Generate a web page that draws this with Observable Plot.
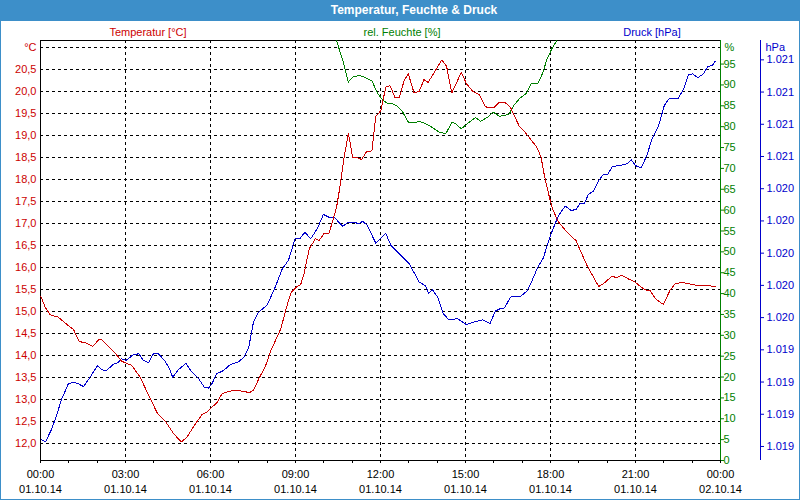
<!DOCTYPE html>
<html><head><meta charset="utf-8">
<script src="https://cdn.jsdelivr.net/npm/d3@7"></script>
<script src="https://cdn.jsdelivr.net/npm/@observablehq/plot@0.6"></script>
<style>
body{margin:0;background:#fff;}
#wrap{position:relative;width:800px;height:500px;background:#fff;overflow:hidden;font-family:"Liberation Sans",Arial,sans-serif;}
#titlebar{position:absolute;left:0;top:0;width:800px;height:21px;background:#3d8fc9;}
#title{position:absolute;top:0;left:414px;transform:translateX(-50%);line-height:20px;color:#fff;font-weight:bold;font-size:12px;white-space:nowrap;}
.slabel{position:absolute;top:25px;transform:translateX(-50%);font-size:11px;white-space:nowrap;line-height:14px;}
#chart{position:absolute;left:0;top:20px;}
#border{position:absolute;left:0;top:0;width:798px;height:498px;border:1px solid #3d8fc9;pointer-events:none;}
</style></head>
<body>
<div id="wrap">
  <div id="titlebar"><div id="title">Temperatur, Feuchte &amp; Druck</div></div>
  <div class="slabel" style="left:148px;color:#cc0000">Temperatur [°C]</div>
  <div class="slabel" style="left:402px;color:#008000">rel. Feuchte [%]</div>
  <div class="slabel" style="left:652px;color:#0000cc">Druck [hPa]</div>
  <div id="chart"></div>
  <div id="border"></div>
</div>
<script>
// ---- Data ----
const tempTime = ["00:01","00:10","00:20","00:38","00:52","01:10","01:22","01:35","01:51","02:03","02:10","02:20","02:38","02:52","03:13","03:31","03:49","04:08","04:23","04:42","04:58","05:10","05:28","05:42","05:52","06:03","06:13","06:24","06:38","06:52","07:10","07:22","07:31","07:42","07:56","08:08","08:29","08:39","08:50","09:01","09:11","09:18","09:29","09:42","09:50","10:01","10:11","10:18","10:27","10:34","10:43","10:52","11:01","11:11","11:20","11:30","11:42","11:50","12:01","12:11","12:20","12:31","12:40","12:50","12:59","13:11","13:22","13:32","13:41","13:54","14:10","14:20","14:31","14:41","14:51","15:02","15:15","15:29","15:42","15:50","15:59","16:11","16:24","16:35","16:44","16:54","17:06","17:17","17:31","17:40","17:47","17:56","18:04","18:17","18:35","18:54","19:03","19:17","19:29","19:42","19:52","20:10","20:20","20:31","20:45","20:59","21:10","21:21","21:31","21:42","21:59","22:13","22:24","22:38","22:52","23:13","23:28","23:49"];
const tempValue = [15.34,15.10,14.93,14.87,14.74,14.59,14.32,14.29,14.21,14.36,14.36,14.25,14.06,13.87,13.78,13.51,13.10,12.68,12.53,12.23,12.04,12.15,12.45,12.66,12.72,12.83,12.92,13.13,13.19,13.21,13.19,13.16,13.21,13.47,13.75,14.12,14.61,15.02,15.42,15.55,15.61,15.86,16.42,16.65,16.61,16.78,16.78,17.03,17.37,17.82,18.50,19.05,18.49,18.49,18.45,18.62,18.65,19.43,19.56,20.09,20.13,19.85,19.86,20.24,20.39,19.96,20.00,20.26,20.20,20.43,20.71,20.56,19.96,20.19,20.43,20.17,20.00,19.92,19.65,19.62,19.62,19.74,19.74,19.64,19.43,19.20,19.07,18.92,18.73,18.50,18.09,17.67,17.33,17.03,16.80,16.61,16.39,16.05,15.82,15.57,15.63,15.80,15.77,15.82,15.74,15.67,15.57,15.49,15.48,15.29,15.16,15.48,15.63,15.66,15.63,15.59,15.59,15.57];

const humTime = ["10:15","10:27","10:40","10:52","11:01","11:15","11:29","11:42","11:54","12:04","12:15","12:25","12:36","12:47","12:59","13:11","13:22","13:36","13:50","14:04","14:18","14:32","14:39","14:51","15:04","15:21","15:32","15:47","15:59","16:11","16:24","16:33","16:42","16:56","17:08","17:19","17:33","17:43","17:52","18:03","18:13","18:25"];
const humValue = [104.5,100.6,95.9,90.7,91.9,92.3,91.7,90.9,88.0,86.5,85.5,85.5,84.9,83.5,81.1,80.9,81.3,80.7,79.8,78.7,78.3,81.1,80.7,79.5,80.7,82.2,81.3,82.3,83.5,82.5,82.7,83.1,85.1,86.9,87.9,90.3,90.4,92.7,96.0,98.7,100.6,103.0];

const pressTime = ["00:01","00:11","00:24","00:35","00:45","00:59","01:10","01:20","01:31","01:45","02:01","02:10","02:20","02:34","02:45","02:51","03:01","03:17","03:28","03:38","03:49","03:59","04:10","04:24","04:33","04:40","04:52","05:08","05:19","05:35","05:47","05:56","06:03","06:13","06:28","06:42","06:58","07:10","07:21","07:31","07:42","07:59","08:07","08:17","08:32","08:45","08:59","09:09","09:20","09:32","09:46","09:59","10:11","10:22","10:40","10:52","11:04","11:15","11:22","11:32","11:50","12:11","12:22","12:40","13:01","13:22","13:35","13:42","13:50","14:01","14:13","14:25","14:43","15:02","15:22","15:36","15:52","16:03","16:13","16:23","16:35","16:45","16:56","17:10","17:21","17:33","17:45","17:54","18:04","18:17","18:31","18:44","18:54","19:03","19:12","19:20","19:31","19:42","19:52","20:01","20:11","20:28","20:42","20:51","21:00","21:12","21:24","21:35","21:49","22:01","22:11","22:30","22:42","22:52","23:01","23:12","23:24","23:33","23:43","23:49"];
const pressValue = [1018.742,1018.731,1018.810,1018.903,1018.996,1019.089,1019.099,1019.089,1019.072,1019.130,1019.203,1019.176,1019.172,1019.209,1019.223,1019.244,1019.234,1019.271,1019.275,1019.234,1019.220,1019.275,1019.275,1019.229,1019.182,1019.130,1019.176,1019.217,1019.167,1019.120,1019.068,1019.062,1019.089,1019.151,1019.172,1019.209,1019.223,1019.251,1019.316,1019.472,1019.534,1019.575,1019.623,1019.689,1019.803,1019.855,1019.989,1019.989,1020.030,1019.989,1020.051,1020.140,1020.123,1020.123,1020.066,1020.092,1020.092,1020.082,1020.099,1020.072,1019.962,1020.024,1019.948,1019.896,1019.834,1019.720,1019.699,1019.652,1019.673,1019.627,1019.524,1019.486,1019.493,1019.457,1019.476,1019.486,1019.462,1019.540,1019.555,1019.561,1019.627,1019.631,1019.631,1019.664,1019.730,1019.813,1019.871,1019.958,1020.041,1020.134,1020.192,1020.165,1020.171,1020.210,1020.210,1020.264,1020.285,1020.351,1020.388,1020.388,1020.438,1020.444,1020.455,1020.480,1020.444,1020.428,1020.506,1020.610,1020.693,1020.817,1020.858,1020.858,1020.920,1021.009,1021.013,1020.989,1021.013,1021.059,1021.065,1021.092];

// Tick values and labels
const tempTicks = [12.0,12.5,13.0,13.5,14.0,14.5,15.0,15.5,16.0,16.5,17.0,17.5,18.0,18.5,19.0,19.5,20.0,20.5];
const tempTickLabels = ["12,0","12,5","13,0","13,5","14,0","14,5","15,0","15,5","16,0","16,5","17,0","17,5","18,0","18,5","19,0","19,5","20,0","20,5"];
const tempGrid = [12.0,12.5,13.0,13.5,14.0,14.5,15.0,15.5,16.0,16.5,17.0,17.5,18.0,18.5,19.0,19.5,20.0,20.5,21.0];
const humTicks = [0,5,10,15,20,25,30,35,40,45,50,55,60,65,70,75,80,85,90,95];
const humTickLabels = ["0","5","10","15","20","25","30","35","40","45","50","55","60","65","70","75","80","85","90","95"];
const pressTicks = [1018.7,1018.9,1019.1,1019.3,1019.5,1019.7,1019.9,1020.1,1020.3,1020.5,1020.7,1020.9,1021.1];
const pressTickLabels = ["1.019","1.019","1.019","1.019","1.020","1.020","1.020","1.020","1.020","1.021","1.021","1.021","1.021"];
const hourTicks = [0,1,2,3,4,5,6,7,8,9,10,11,12,13,14,15,16,17,18,19,20,21,22,23,24];
const labelHours = [0,3,6,9,12,15,18,21,24];
const timeLabels = ["00:00","03:00","06:00","09:00","12:00","15:00","18:00","21:00","00:00"];
const dateLabels = ["01.10.14","01.10.14","01.10.14","01.10.14","01.10.14","01.10.14","01.10.14","01.10.14","02.10.14"];

// ---- Scales / helpers ----
const RED = "#cc0000", GREEN = "#008000", BLUE = "#0000cc";
const parse = s => { const [h, m] = s.split(":").map(Number); return new Date(Date.UTC(2014, 9, 1, h, m)); };
const hour = h => new Date(Date.UTC(2014, 9, 1, h, 0));
const tempDomain = [11.62, 21.15];
const humToT = d3.scaleLinear().domain([0, 100.65]).range(tempDomain);
const pressToT = d3.scaleLinear().domain([1018.613, 1021.22]).range(tempDomain);

const temp = tempTime.map((t, i) => ({date: parse(t), v: tempValue[i]}));
const hum = humTime.map((t, i) => ({date: parse(t), v: humToT(humValue[i])}));
const press = pressTime.map((t, i) => ({date: parse(t), v: pressToT(pressValue[i])}));

const humTicksT = humTicks.map(humToT);
const pressTicksT = pressTicks.map(pressToT);
const dash = "3,3";
const hourOf = d => d.getUTCHours() + (d.getUTCDate() === 2 ? 24 : 0);

const chart = Plot.plot({
  width: 800, height: 480,
  marginTop: 20, marginBottom: 40, marginLeft: 40, marginRight: 80,
  style: {fontFamily: "'Liberation Sans', Arial, sans-serif", fontSize: "11px", background: "transparent", overflow: "visible"},
  x: {type: "utc", domain: [hour(0), hour(24)], axis: null},
  y: {domain: tempDomain, axis: null},
  marks: [
    Plot.gridY(tempGrid, {stroke: "#000", strokeOpacity: 1, strokeDasharray: dash, shapeRendering: "crispEdges"}),
    Plot.gridX(labelHours.slice(1, -1).map(hour), {stroke: "#000", strokeOpacity: 1, strokeDasharray: dash, shapeRendering: "crispEdges"}),
    Plot.frame({stroke: "#000", shapeRendering: "crispEdges"}),
    Plot.lineY(hum, {x: "date", y: "v", stroke: GREEN, strokeWidth: 1, clip: true, shapeRendering: "crispEdges"}),
    Plot.lineY(press, {x: "date", y: "v", stroke: BLUE, strokeWidth: 1, shapeRendering: "crispEdges"}),
    Plot.lineY(temp, {x: "date", y: "v", stroke: RED, strokeWidth: 1, shapeRendering: "crispEdges"}),
    Plot.ruleX([hour(24)], {stroke: GREEN, strokeWidth: 1, shapeRendering: "crispEdges"}),
    Plot.ruleX([hour(24)], {stroke: BLUE, strokeWidth: 1, dx: 40, shapeRendering: "crispEdges"}),
    // left temperature axis
    Plot.axisY(tempTicks, {anchor: "left", tickSize: 0, tickPadding: 4, fill: RED, label: null,
      tickFormat: d => tempTickLabels[tempTicks.indexOf(d)]}),
    Plot.text([21], {y: d => d, text: () => "°C", frameAnchor: "left", textAnchor: "end", dx: -4, fill: RED}),
    // humidity axis
    Plot.axisY(humTicksT, {anchor: "right", tickSize: 3, tickPadding: 0, stroke: GREEN, fill: GREEN, label: null,
      tickFormat: d => humTickLabels[humTicksT.indexOf(d)]}),
    Plot.text([21], {y: d => d, text: () => "%", frameAnchor: "right", textAnchor: "start", dx: 4, fill: GREEN}),
    // pressure axis
    Plot.axisY(pressTicksT, {anchor: "right", dx: 40, tickSize: 3, tickPadding: 3, stroke: BLUE, fill: BLUE, label: null,
      tickFormat: d => pressTickLabels[pressTicksT.indexOf(d)]}),
    Plot.text([21], {y: d => d, text: () => "hPa", frameAnchor: "right", textAnchor: "start", dx: 45, fill: BLUE}),
    // x axis
    Plot.axisX(hourTicks.map(hour), {tickSize: 3, tickFormat: () => "", label: null, shapeRendering: "crispEdges"}),
    Plot.axisX(labelHours.map(hour), {tickSize: 0, tickPadding: 10, label: null, fill: "#000",
      tickFormat: d => timeLabels[labelHours.indexOf(hourOf(d))]}),
    Plot.axisX(labelHours.map(hour), {tickSize: 0, tickPadding: 25, label: null, fill: "#000",
      tickFormat: d => dateLabels[labelHours.indexOf(hourOf(d))]})
  ]
});
document.getElementById("chart").appendChild(chart);
</script>
</body></html>
